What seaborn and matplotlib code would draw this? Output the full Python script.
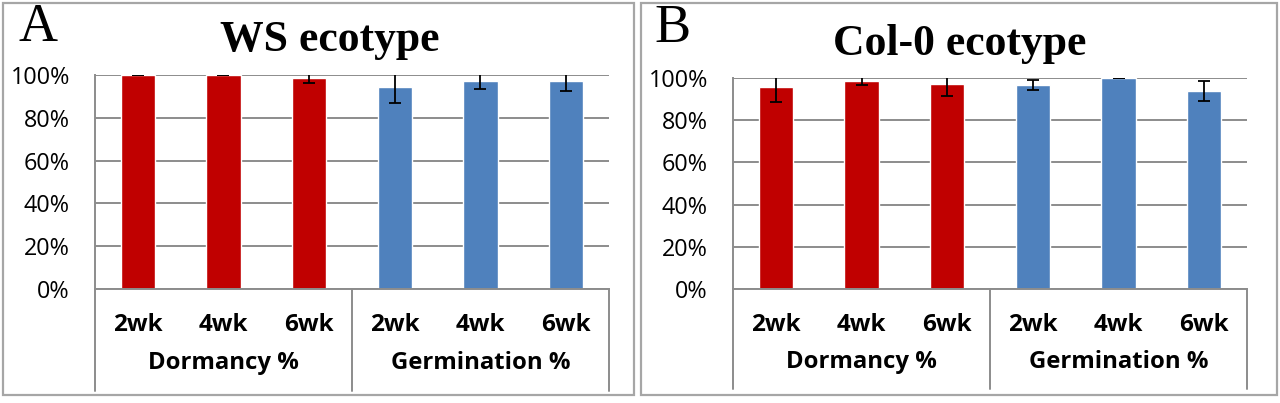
import matplotlib
matplotlib.use("Agg")
import matplotlib.pyplot as plt
import matplotlib.transforms as mtransforms
from matplotlib.patches import Rectangle
from matplotlib.ticker import PercentFormatter
import seaborn as sns
import pandas as pd

# --- data ---
groups = ["Dormancy %", "Germination %"]
weeks = ["2wk", "4wk", "6wk"]

ws_dormancy = [1.000, 1.000, 0.984]
ws_dormancy_err = [0.000, 0.000, 0.021]
ws_germination = [0.942, 0.973, 0.972]
ws_germination_err = [0.073, 0.039, 0.045]

col_dormancy = [0.956, 0.987, 0.972]
col_dormancy_err = [0.068, 0.022, 0.056]
col_germination = [0.968, 1.000, 0.940]
col_germination_err = [0.024, 0.000, 0.047]

panel_titles = ["WS ecotype", "Col-0 ecotype"]
panel_letters = ["A", "B"]

RED = "#C00000"
BLUE = "#4F81BD"
GRID = "#8C8C8C"
FRAME = "#A6A6A6"


def make_frame(dorm, dorm_err, germ, germ_err):
    rows = []
    for g, vals, errs in [(groups[0], dorm, dorm_err), (groups[1], germ, germ_err)]:
        for w, v, e in zip(weeks, vals, errs):
            rows.append({"group": g, "week": w, "key": f"{g} {w}", "value": v, "err": e})
    return pd.DataFrame(rows)


def draw_panel(ax, df):
    sns.barplot(data=df, x="key", y="value", hue="group", palette=[RED, BLUE],
                dodge=False, width=0.4, legend=False, ax=ax, saturation=1)
    centers = [p.get_x() + p.get_width() / 2 for p in ax.patches]
    ax.errorbar(centers, df["value"], yerr=df["err"], fmt="none", ecolor="black",
                elinewidth=1.3, capsize=4.5, capthick=1.3, zorder=5)

    n = len(df)
    ax.set_xlim(-0.5, n - 0.5)
    ax.set_ylim(0, 1.0)
    ax.set_yticks([0, 0.2, 0.4, 0.6, 0.8, 1.0])
    ax.yaxis.set_major_formatter(PercentFormatter(1.0, decimals=0))
    ax.yaxis.grid(True, color=GRID, lw=1.4)
    ax.xaxis.grid(False)
    ax.set_axisbelow(True)

    ax.set_xticks(range(n), labels=df["week"])
    ax.tick_params(axis="x", length=0, pad=17, labelsize=17.5, labelcolor="black")
    ax.tick_params(axis="y", length=0, pad=18, labelsize=16.8, labelcolor="black")
    for lab in ax.get_xticklabels():
        lab.set_fontweight("bold")
    ax.set_xlabel("")
    ax.set_ylabel("")

    for side in ["top", "right"]:
        ax.spines[side].set_visible(False)
    for side in ["left", "bottom"]:
        ax.spines[side].set_color(GRID)
        ax.spines[side].set_linewidth(1.4)

    # two-level category table under the axis
    trans = mtransforms.blended_transform_factory(ax.transData, ax.transAxes)
    k = len(weeks)
    for xb in [-0.5, k - 0.5, n - 0.5]:
        ax.plot([xb, xb], [0, -0.475], transform=trans, color=GRID, lw=1.4, clip_on=False)
    for i, g in enumerate(groups):
        ax.text(i * k + (k - 1) / 2, -0.345, g, transform=trans, ha="center", va="center",
                fontsize=17.2, fontweight="bold", color="black")


sns.set_theme(style="white")
plt.rcParams["font.family"] = ["Open Sans", "DejaVu Sans"]
plt.rcParams["text.color"] = "black"

fig = plt.figure(figsize=(12.8, 4.03), dpi=100)

# panel frames (pixel boxes converted to figure fractions)
W, H = 1280, 403
for x0, x1 in [(3, 634), (641, 1277)]:
    fig.add_artist(Rectangle((x0 / W, 1 - 395 / H), (x1 - x0) / W, (395 - 3) / H,
                             transform=fig.transFigure, fill=False, ec=FRAME, lw=1.6))

frames = [make_frame(ws_dormancy, ws_dormancy_err, ws_germination, ws_germination_err),
          make_frame(col_dormancy, col_dormancy_err, col_germination, col_germination_err)]
axes_px = [(95, 609, 75, 289), (733, 1247, 78, 289)]
title_px = [(330, 40), (960, 44)]
letter_px = [(38, 28), (672, 29)]

for df, (l, r, t, b), title, (tx, ty), letter, (lx, ly) in zip(
        frames, axes_px, panel_titles, title_px, panel_letters, letter_px):
    ax = fig.add_axes([l / W, 1 - b / H, (r - l) / W, (b - t) / H])
    draw_panel(ax, df)
    fig.text(tx / W, 1 - ty / H, title, ha="center", va="center", fontsize=31.5,
             fontweight="bold", family=["Liberation Serif", "DejaVu Serif"])
    fig.text(lx / W, 1 - ly / H, letter, ha="center", va="center", fontsize=39,
             family=["Liberation Serif", "DejaVu Serif"])

fig.savefig("out.png", dpi=100, facecolor="white")
